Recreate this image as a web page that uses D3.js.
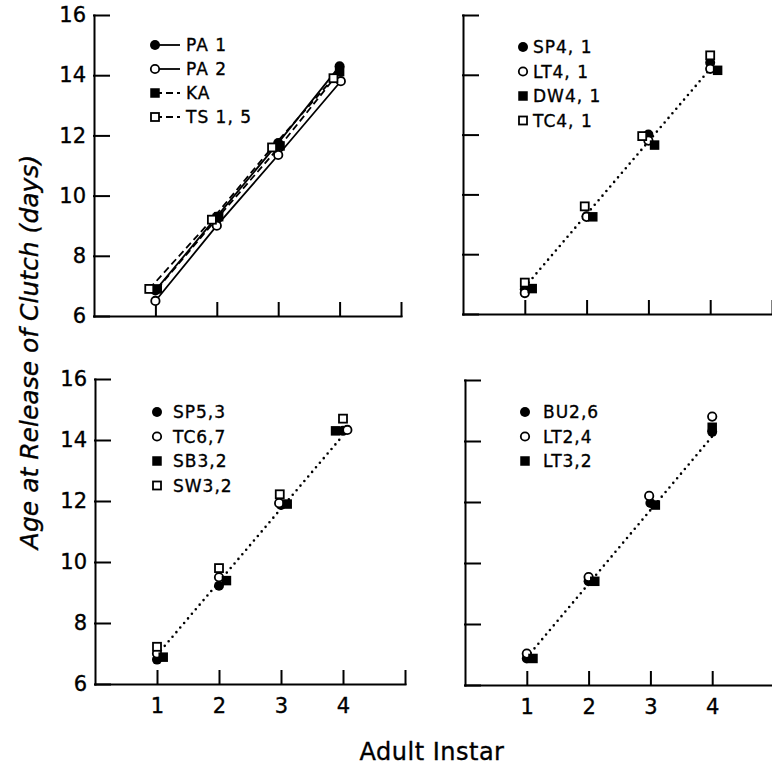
<!DOCTYPE html>
<meta charset="utf-8">

<style>
body{
	background-color: #fff;
	margin: 0px;
}
text{
	font-family: "DejaVu Sans", sans-serif;
	fill: #000;
	stroke: #000;
	stroke-width: 0.35px;
}
.axis path, .axis line{
	stroke: #000;
	stroke-width: 2;
	stroke-linecap: square;
}
</style>

<body></body>

<script src="https://cdn.jsdelivr.net/npm/d3@7"></script>

<script>

// ---- data ----
var instars = [1, 2, 3, 4]
var xTicks  = [1, 2, 3, 4, 5]		// 5 is the unlabelled end tick
var yTicks  = [6, 8, 10, 12, 14, 16]

// top left
var namesA = ['PA 1', 'PA 2', 'KA', 'TS 1, 5']
var pa1  = [6.85, 9.30, 11.75, 14.30]
var pa2  = [6.50, 9.00, 11.35, 13.80]
var ka   = [6.90, 9.30, 11.65, 14.12]
var ts15 = [6.90, 9.20, 11.60, 13.90]

// top right
var namesB = ['SP4, 1', 'LT4, 1', 'DW4, 1', 'TC4, 1']
var sp41 = [6.83, 9.27, 12.00, 14.40]
var lt41 = [6.70, 9.25, 11.80, 14.20]
var dw41 = [6.85, 9.25, 11.65, 14.15]
var tc41 = [7.05, 9.60, 11.95, 14.65]
var fitB = [[1, 6.90], [4, 14.20]]

// bottom left
var namesC = ['SP5,3', 'TC6,7', 'SB3,2', 'SW3,2']
var sp53 = [6.80, 9.22, 11.87, 14.30]
var tc67 = [7.00, 9.50, 11.93, 14.33]
var sb32 = [6.88, 9.39, 11.90, 14.30]
var sw32 = [7.22, 9.80, 12.22, 14.70]
var fitC = [[1, 6.95], [4, 14.15]]

// bottom right
var namesD = ['BU2,6', 'LT2,4', 'LT3,2']
var bu26 = [6.87, 9.40, 11.97, 14.30]
var lt24 = [7.03, 9.54, 12.20, 14.80]
var lt32 = [6.87, 9.40, 11.90, 14.45]
var fitD = [[1, 6.90], [4, 14.15]]


var width = 772, height = 769

var svg = d3.select('body')
	.append('svg')
		.attr('width', width)
		.attr('height', height)

// marker kinds: fc filled circle, oc open circle, fs filled square, os open square
var panels = [
	{x0: 94, x1: 401, y0: 316, y1: 15, labelsY: true, labelsX: false,
		legend: {mx: 155, tx: 186, y: 45, dy: 24, lines: true},
		series: [
			{name: namesA[0], vals: pa1,  kind: 'fc', dash: null,  nudge: [0, 0, 0, 0]},
			{name: namesA[1], vals: pa2,  kind: 'oc', dash: null,  nudge: [0, 0, 0, 0.02]},
			{name: namesA[2], vals: ka,   kind: 'fs', dash: '7,4', nudge: [0.03, 0.03, 0.03, 0]},
			{name: namesA[3], vals: ts15, kind: 'os', dash: '7,4', nudge: [-0.1, -0.08, -0.1, -0.1]}
		]},
	{x0: 463, x1: 772, y0: 314, y1: 15, labelsY: false, labelsX: false, fit: fitB,
		legend: {mx: 523, tx: 533, y: 47, dy: 24.5},
		series: [
			{name: namesB[0], vals: sp41, kind: 'fc', nudge: [0, 0, 0, 0]},
			{name: namesB[1], vals: lt41, kind: 'oc', nudge: [0, 0, 0, 0]},
			{name: namesB[2], vals: dw41, kind: 'fs', nudge: [0.12, 0.1, 0.1, 0.12]},
			{name: namesB[3], vals: tc41, kind: 'os', nudge: [0, -0.03, -0.1, 0]}
		]},
	{x0: 95, x1: 405, y0: 684, y1: 379, labelsY: true, labelsX: true, fit: fitC,
		legend: {mx: 157, tx: 173, y: 412, dy: 24.5},
		series: [
			{name: namesC[0], vals: sp53, kind: 'fc', nudge: [0, 0, 0, 0]},
			{name: namesC[1], vals: tc67, kind: 'oc', nudge: [0, 0, -0.03, 0.07]},
			{name: namesC[2], vals: sb32, kind: 'fs', nudge: [0.1, 0.12, 0.1, -0.12]},
			{name: namesC[3], vals: sw32, kind: 'os', nudge: [0, 0, -0.02, 0]}
		]},
	{x0: 465, x1: 774, y0: 685, y1: 380, labelsY: false, labelsX: true, fit: fitD,
		legend: {mx: 525, tx: 543, y: 412, dy: 24.5},
		series: [
			{name: namesD[0], vals: bu26, kind: 'fc', nudge: [0, 0, 0, 0]},
			{name: namesD[1], vals: lt24, kind: 'oc', nudge: [0, 0, -0.02, 0]},
			{name: namesD[2], vals: lt32, kind: 'fs', nudge: [0.1, 0.1, 0.08, 0]}
		]}
]

function marker(g, kind, cx, cy){
	if (kind == 'fc' || kind == 'oc'){
		g.append('circle')
			.attr('cx', cx).attr('cy', cy)
			.attr('r', kind == 'fc' ? 5 : 4.2)
			.attr('fill', kind == 'fc' ? '#000' : '#fff')
			.attr('stroke', '#000')
			.attr('stroke-width', kind == 'fc' ? 0 : 1.8)
	} else {
		var s = kind == 'fs' ? 9.5 : 8
		g.append('rect')
			.attr('x', cx - s/2).attr('y', cy - s/2)
			.attr('width', s).attr('height', s)
			.attr('fill', kind == 'fs' ? '#000' : '#fff')
			.attr('stroke', '#000')
			.attr('stroke-width', kind == 'fs' ? 0 : 1.8)
	}
}

panels.forEach(function(p){
	var x = d3.scaleLinear().domain([0, 5]).range([p.x0, p.x1])
	var y = d3.scaleLinear().domain([6, 16]).range([p.y0, p.y1])

	var g = svg.append('g')

	// y axis, ticks pointing inward
	g.append('g')
			.attr('class', 'axis')
			.attr('transform', 'translate(' + p.x0 + ',0)')
			.call(d3.axisLeft(y)
				.tickValues(yTicks)
				.tickSizeInner(-15).tickSizeOuter(0)
				.tickPadding(8)
				.tickFormat(p.labelsY ? d3.format('d') : function(){ return '' }))
		.selectAll('text')
			.style('font-size', '21px')
			.style('font-family', '"DejaVu Sans", sans-serif')

	// x axis, ticks pointing up
	g.append('g')
			.attr('class', 'axis')
			.attr('transform', 'translate(0,' + p.y0 + ')')
			.call(d3.axisBottom(x)
				.tickValues(xTicks)
				.tickSizeInner(-13).tickSizeOuter(0)
				.tickPadding(14)
				.tickFormat(function(d){ return p.labelsX && d < 5 ? d : '' }))
		.selectAll('text')
			.style('font-size', '21px')
			.style('font-family', '"DejaVu Sans", sans-serif')

	g.selectAll('.domain').attr('stroke-width', 2)

	// fitted dotted line
	if (p.fit){
		g.append('path')
			.attr('d', d3.line().x(function(d){ return x(d[0]) }).y(function(d){ return y(d[1]) })(p.fit))
			.attr('fill', 'none')
			.attr('stroke', '#000')
			.attr('stroke-width', 2.6)
			.attr('stroke-linecap', 'round')
			.attr('stroke-dasharray', '0,6')
	}

	// connecting lines (top left panel only)
	p.series.forEach(function(s){
		if (s.dash === undefined) return
		g.append('path')
			.attr('d', d3.line()
				.x(function(d, i){ return x(instars[i] + s.nudge[i]) })
				.y(function(d){ return y(d) })(s.vals))
			.attr('fill', 'none')
			.attr('stroke', '#000')
			.attr('stroke-width', 1.8)
			.attr('stroke-dasharray', s.dash)
	})

	// points
	p.series.forEach(function(s){
		s.vals.forEach(function(v, i){
			marker(g, s.kind, x(instars[i] + s.nudge[i]), y(v))
		})
	})

	// legend
	var L = p.legend
	p.series.forEach(function(s, i){
		var ly = L.y + i*L.dy
		if (L.lines){
			g.append('line')
				.attr('x1', L.mx).attr('x2', L.mx + 25)
				.attr('y1', ly).attr('y2', ly)
				.attr('stroke', '#000')
				.attr('stroke-width', 1.8)
				.attr('stroke-dasharray', s.dash ? '7,4' : null)
		}
		marker(g, s.kind, L.mx, ly)
		g.append('text')
			.attr('x', L.tx).attr('y', ly)
			.attr('dy', '0.36em')
			.style('font-size', '17px')
			.style('letter-spacing', '1px')
			.text(s.name)
	})
})

// axis titles
svg.append('text')
	.attr('transform', 'translate(38,352) rotate(-90)')
	.attr('text-anchor', 'middle')
	.style('font-size', '25px')
	.style('font-style', 'italic')
	.text('Age at Release of Clutch (days)')

svg.append('text')
	.attr('x', 432).attr('y', 760)
	.attr('text-anchor', 'middle')
	.style('font-size', '24px')
	.style('letter-spacing', '0.5px')
	.text('Adult Instar')

</script>
